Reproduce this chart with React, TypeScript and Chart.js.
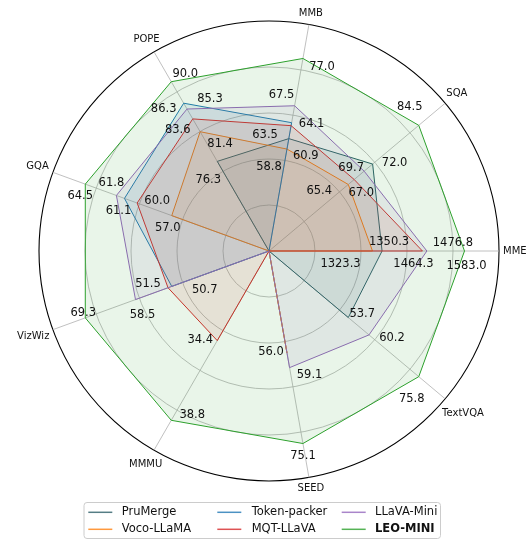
import React, { useEffect, useRef } from 'react';
import { Chart, registerables } from 'chart.js';

Chart.register(...registerables);

// ---- data (raw benchmark scores; null = not reported) ----
const categories = ['MME', 'SQA', 'MMB', 'POPE', 'GQA', 'VizWiz', 'MMMU', 'SEED', 'TextVQA'];
const models = ['PruMerge', 'Voco-LLaMA', 'Token-packer', 'MQT-LLaVA', 'LLaVA-Mini', 'LEO-MINI'];

const pruMerge = [1350.3, 72.0, 60.9, 76.3, null, null, null, null, 53.7];
const vocoLlama = [1323.3, 65.4, 58.8, 81.4, 57.0, null, null, 56.0, null];
const tokenPacker = [null, null, 64.1, 86.3, 61.1, 50.7, null, null, null];
const mqtLlava = [1464.3, 67.0, 63.5, 83.6, 60.0, 51.5, 34.4, null, null];
const llavaMini = [1476.8, 69.7, 67.5, 85.3, 61.8, 58.5, null, 59.1, 60.2];
const leoMini = [1583.0, 84.5, 77.0, 90.0, 64.5, 69.3, 38.8, 75.1, 75.8];

const series: (number | null)[][] = [pruMerge, vocoLlama, tokenPacker, mqtLlava, llavaMini, leoMini];

// ---- styling ----
const colors = ['#2a5d67', '#ff7f0e', '#1f77b4', '#d62728', '#9467bd', '#2ca02c'];
const FONT = '"DejaVu Sans", "Liberation Sans", sans-serif';

// Chart.js runs clockwise; the reference runs counter-clockwise from MME (right).
const displayOrder = [0, 8, 7, 6, 5, 4, 3, 2, 1];

// value-label nudges (px) relative to each vertex, per model / category
const labelOffsets: ([number, number] | null)[][] = [
  [[7, -9], [22, -1], [17, 17], [-9, 19], null, null, null, null, [14, -4]],
  [[-32, 13], [-29, 7], [-18, 18], [20, 12], [-4, 12], null, null, [-16, -1], null],
  [null, null, [20, 1], [-20, 6], [-6, 13], [33, 4], null, null, null],
  [[-9, 13], [7, 13], [-26, 9], [-15, 11], [20, -2], [-20, -4], [-17, -1], null, null],
  [[26, -8], [-13, -3], [-13, -11], [23, -10], [-5, -12], [7, 15], null, [20, 7], [23, 3]],
  [[2, 15], [-9, -18], [19, 9], [14, -8], [-5, 12], [-2, -5], [21, -5], [0, 12], [-7, 22]],
];

function rgba(hex: string, a: number) {
  const n = parseInt(hex.slice(1), 16);
  return `rgba(${(n >> 16) & 255},${(n >> 8) & 255},${n & 255},${a})`;
}

export default function App() {
  const ref = useRef<HTMLCanvasElement>(null);

  useEffect(() => {
    const canvas = ref.current;
    if (!canvas) return;

    const mins = categories.map((_, c) =>
      Math.min(...(series.map((s) => s[c]).filter((v) => v != null) as number[]))
    );
    const maxs = categories.map((_, c) =>
      Math.max(...(series.map((s) => s[c]).filter((v) => v != null) as number[]))
    );
    const norm = (v: number | null, c: number) =>
      v == null ? 0 : 0.45 + 0.4 * ((v - mins[c]) / (maxs[c] - mins[c]));

    const datasets = models.map((m, i) => ({
      label: m,
      data: displayOrder.map((c) => norm(series[i][c], c)),
      borderColor: colors[i],
      backgroundColor: rgba(colors[i], 0.1),
      borderWidth: 1,
      fill: 'origin' as const,
      pointRadius: 0,
      pointHoverRadius: 0,
      tension: 0,
      order: models.length - 1 - i,
    }));

    const overlay = {
      id: 'overlay',
      afterDatasetsDraw(chart: any) {
        const ctx = chart.ctx as CanvasRenderingContext2D;
        const scale = chart.scales.r;
        ctx.save();
        // value annotations
        ctx.font = `11.5px ${FONT}`;
        ctx.fillStyle = '#111';
        ctx.textAlign = 'center';
        ctx.textBaseline = 'middle';
        series.forEach((s, i) => {
          const meta = chart.getDatasetMeta(i);
          displayOrder.forEach((c, j) => {
            const v = s[c];
            const off = labelOffsets[i][c];
            if (v == null || !off) return;
            const pt = meta.data[j];
            ctx.fillText(v.toFixed(1), pt.x + off[0], pt.y + off[1]);
          });
        });
        // category labels outside the outer ring
        ctx.font = `10px ${FONT}`;
        displayOrder.forEach((c, j) => {
          const p = scale.getPointPosition(j, scale.drawingArea + 4);
          const w = ctx.measureText(categories[c]).width;
          const ux = Math.cos(p.angle);
          const uy = Math.sin(p.angle);
          const d = (Math.abs(ux) * w) / 2 + Math.abs(uy) * 5;
          ctx.fillText(categories[c], p.x + ux * d, p.y + uy * d);
        });
        ctx.restore();
      },
      afterDraw(chart: any) {
        const ctx = chart.ctx as CanvasRenderingContext2D;
        ctx.save();
        // legend frame
        const bx = 84, by = 502.5, bw = 356.5, bh = 36, rr = 3;
        ctx.beginPath();
        ctx.moveTo(bx + rr, by);
        ctx.arcTo(bx + bw, by, bx + bw, by + bh, rr);
        ctx.arcTo(bx + bw, by + bh, bx, by + bh, rr);
        ctx.arcTo(bx, by + bh, bx, by, rr);
        ctx.arcTo(bx, by, bx + bw, by, rr);
        ctx.closePath();
        ctx.fillStyle = 'rgba(255,255,255,0.8)';
        ctx.fill();
        ctx.strokeStyle = '#cccccc';
        ctx.lineWidth = 1;
        ctx.stroke();

        const handleX = [88.3, 217.3, 341.7];
        const textX = [121.7, 251.7, 375];
        const rowY = [512.3, 529.3];
        models.forEach((m, i) => {
          const col = Math.floor(i / 2);
          const row = i % 2;
          const y = rowY[row];
          ctx.strokeStyle = rgba(colors[i], 0.8);
          ctx.lineWidth = 1.5;
          ctx.beginPath();
          ctx.moveTo(handleX[col], y);
          ctx.lineTo(handleX[col] + 24, y);
          ctx.stroke();
          ctx.fillStyle = '#111';
          ctx.textAlign = 'left';
          ctx.textBaseline = 'middle';
          ctx.font = `${m === 'LEO-MINI' ? 'bold ' : ''}11.5px ${FONT}`;
          ctx.fillText(m, textX[col], y);
        });
        ctx.restore();
      },
    };

    const chart = new Chart(canvas, {
      type: 'radar',
      data: { labels: displayOrder.map((c) => categories[c]), datasets },
      options: {
        responsive: false,
        animation: false,
        devicePixelRatio: 1,
        events: [],
        layout: { padding: { left: 39, right: 28, top: 21, bottom: 59 } },
        elements: { line: { tension: 0 } },
        plugins: { legend: { display: false }, tooltip: { enabled: false } },
        scales: {
          r: {
            min: 0,
            max: 1,
            startAngle: 90,
            ticks: { display: false, stepSize: 0.2 },
            pointLabels: { display: false },
            grid: {
              circular: true,
              color: (ctx: any) => (ctx.tick && ctx.tick.value >= 1 ? '#000000' : '#b0b0b0'),
              lineWidth: (ctx: any) => (ctx.tick && ctx.tick.value >= 1 ? 1.1 : 0.8),
            },
            angleLines: { color: '#b0b0b0', lineWidth: 0.8 },
          },
        },
      },
      plugins: [overlay],
    });

    return () => chart.destroy();
  }, []);

  return (
    <div style={{ position: 'absolute', left: 0, top: 0, width: 527, height: 540, background: '#fff' }}>
      <canvas ref={ref} width={527} height={540} style={{ display: 'block' }} />
    </div>
  );
}
